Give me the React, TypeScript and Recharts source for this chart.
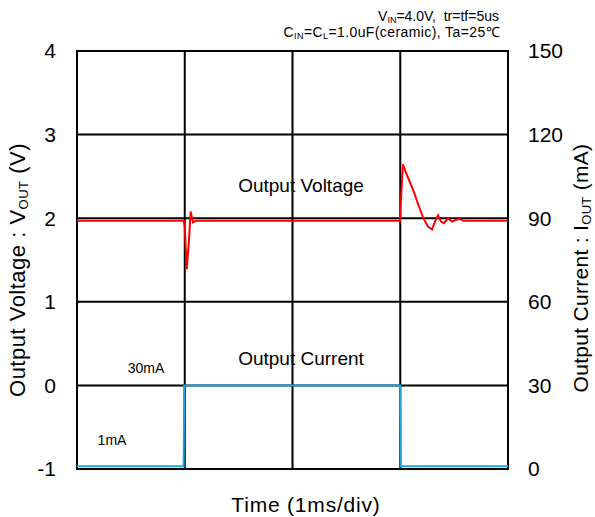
import React from "react";
import { LineChart, Line, XAxis, YAxis, CartesianGrid, ReferenceLine } from "recharts";

// time in ms (1 ms / div)
const voltTime = [0, 0.99, 1.0, 1.018, 1.04, 1.055, 1.068, 1.077, 1.104, 2.0, 2.998, 3.01, 3.025, 3.053, 3.09, 3.128, 3.165, 3.211, 3.257, 3.295, 3.322, 3.35, 3.378, 3.406, 3.443, 3.48, 3.517, 3.555, 3.59, 4.0];
const voltValues = [1.97, 1.97, 1.9, 1.39, 1.75, 2.08, 2.0, 1.95, 1.97, 1.97, 1.97, 2.3, 2.645, 2.545, 2.43, 2.31, 2.17, 2.01, 1.9, 1.865, 1.96, 2.035, 1.96, 1.94, 2.0, 1.96, 1.98, 1.99, 1.97, 1.97];

const currTime = [0, 0.99, 0.995, 3.0, 3.005, 4.0];
const currValues = [1, 1, 30, 30, 1, 1];

const xTicks = [0, 1, 2, 3, 4];
const voltTicks = [-1, 0, 1, 2, 3, 4];
const currTicks = [0, 30, 60, 90, 120, 150];

const voltData = voltTime.map((t, i) => ({ t, v: voltValues[i] }));
const currData = currTime.map((t, i) => ({ t, c: currValues[i] }));

const FONT = "'Liberation Sans', Arial, sans-serif";

export default function App() {
  return (
    <div style={{ position: "absolute", left: 0, top: 0, width: 595, height: 517, background: "#fff" }}>
      <LineChart width={595} height={517} margin={{ top: 51, right: 0, bottom: 0, left: 0 }}>
        <CartesianGrid yAxisId="v" stroke="#000" strokeWidth={2} fill="none" vertical={false} />
        <XAxis
          dataKey="t"
          type="number"
          domain={[0, 4]}
          ticks={xTicks}
          height={48}
          tick={false}
          axisLine={false}
          tickLine={false}
          allowDuplicatedCategory={false}
        />
        <YAxis
          yAxisId="v"
          domain={[-1, 4]}
          ticks={voltTicks}
          width={77}
          axisLine={false}
          tickLine={false}
          tickSize={0}
          tickMargin={21}
          tick={{ fill: "#000", fontSize: 21, fontFamily: FONT }}
        />
        <YAxis
          yAxisId="i"
          orientation="right"
          domain={[0, 150]}
          ticks={currTicks}
          width={87}
          axisLine={false}
          tickLine={false}
          tickSize={0}
          tickMargin={20}
          tick={{ fill: "#000", fontSize: 21, fontFamily: FONT, textAnchor: "start" }}
        />
        {xTicks.map((x) => (
          <ReferenceLine key={"x" + x} x={x} yAxisId="v" stroke="#000" strokeWidth={2} strokeLinecap="square" />
        ))}
        {[voltTicks[0], voltTicks[voltTicks.length - 1]].map((y) => (
          <ReferenceLine key={"y" + y} y={y} yAxisId="v" stroke="#000" strokeWidth={2} strokeLinecap="square" />
        ))}
        <Line
          yAxisId="i"
          data={currData}
          dataKey="c"
          type="linear"
          stroke="#1ba6e0"
          strokeWidth={2}
          dot={false}
          isAnimationActive={false}
        />
        <Line
          yAxisId="v"
          data={voltData}
          dataKey="v"
          type="linear"
          stroke="#ff0000"
          strokeWidth={2}
          dot={false}
          isAnimationActive={false}
        />
        <g fontFamily={FONT} fill="#000">
          <text x={499} y={21} fontSize={14} textAnchor="end">
            V<tspan fontSize={9} dy={2}>IN</tspan>
            <tspan dy={-2}>{"=4.0V,\u00a0 tr=tf=5us"}</tspan>
          </text>
          <text x={500} y={37} fontSize={14} letterSpacing={0.4} textAnchor="end">
            C<tspan fontSize={9} dy={2}>IN</tspan>
            <tspan dy={-2}>=C</tspan>
            <tspan fontSize={9} dy={2}>L</tspan>
            <tspan dy={-2}>=1.0uF(ceramic), Ta=25℃</tspan>
          </text>
          <text x={301} y={192} fontSize={19} textAnchor="middle">Output Voltage</text>
          <text x={301} y={365} fontSize={19} textAnchor="middle">Output Current</text>
          <text x={146} y={373} fontSize={14} textAnchor="middle">30mA</text>
          <text x={112} y={445} fontSize={14} textAnchor="middle">1mA</text>
          <text x={306} y={512} fontSize={21} letterSpacing={0.8} textAnchor="middle">Time (1ms/div)</text>
          <text x={25} y={270} fontSize={22} letterSpacing={0.5} textAnchor="middle" transform="rotate(-90 25 270)">
            Output Voltage : V<tspan fontSize={13} dy={3}>OUT</tspan>
            <tspan dy={-3}> (V)</tspan>
          </text>
          <text x={588} y={268} fontSize={21} letterSpacing={0.3} textAnchor="middle" transform="rotate(-90 588 268)">
            Output Current : I<tspan fontSize={13} dy={3}>OUT</tspan>
            <tspan dy={-3}> (mA)</tspan>
          </text>
        </g>
      </LineChart>
    </div>
  );
}
